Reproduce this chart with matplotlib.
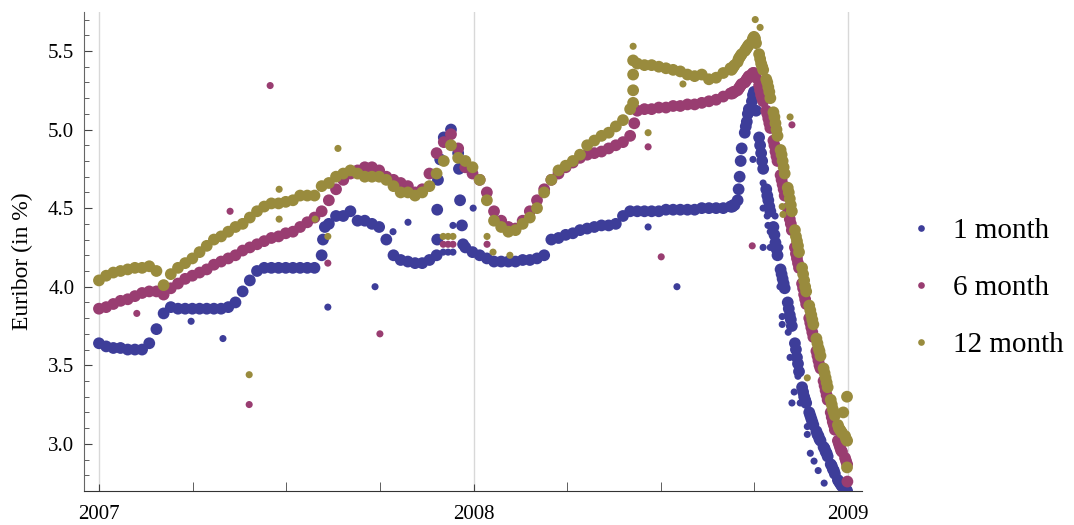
import numpy as np
import pandas as pd
import matplotlib
matplotlib.use("Agg")
import matplotlib.pyplot as plt
from matplotlib.lines import Line2D
from matplotlib.ticker import MultipleLocator, FixedLocator, FormatStrFormatter

plt.rcParams['font.family'] = ['Liberation Serif', 'DejaVu Serif']

# =============================================
# DATOS (en %)
# =============================================
# valores semanales (lunes) hasta el 8 de septiembre de 2008
fechas_sem = pd.date_range("2007-01-01", periods=89, freq="7D")

euribor_1m = [
    3.64, 3.62, 3.61, 3.61, 3.60, 3.60, 3.60, 3.64, 3.73, 3.83,
    3.87, 3.86, 3.86, 3.86, 3.86, 3.86, 3.86, 3.86, 3.87, 3.90,
    3.97, 4.04, 4.10, 4.12, 4.12, 4.12, 4.12, 4.12, 4.12, 4.12,
    4.12, 4.20, 4.40, 4.45, 4.45, 4.48, 4.42, 4.42, 4.40, 4.38,
    4.30, 4.20, 4.17, 4.16, 4.15, 4.15, 4.17, 4.20, 4.95, 5.00,
    4.85, 4.25, 4.22, 4.20, 4.18, 4.16, 4.16, 4.16, 4.16, 4.17,
    4.17, 4.18, 4.20, 4.30, 4.31, 4.33, 4.34, 4.36, 4.37, 4.38,
    4.39, 4.39, 4.40, 4.45, 4.48, 4.48, 4.48, 4.48, 4.48, 4.49,
    4.49, 4.49, 4.49, 4.49, 4.50, 4.50, 4.50, 4.50, 4.51,
]
euribor_6m = [
    3.86, 3.87, 3.89, 3.91, 3.92, 3.94, 3.96, 3.97, 3.97, 3.95,
    3.99, 4.02, 4.05, 4.07, 4.09, 4.11, 4.14, 4.16, 4.18, 4.20,
    4.23, 4.25, 4.27, 4.29, 4.31, 4.32, 4.34, 4.35, 4.38, 4.41,
    4.44, 4.48, 4.55, 4.62, 4.68, 4.72, 4.74, 4.76, 4.76, 4.74,
    4.70, 4.68, 4.66, 4.64, 4.60, 4.62, 4.72, 4.85, 4.92, 4.97,
    4.88, 4.76, 4.72, 4.68, 4.60, 4.48, 4.42, 4.38, 4.37, 4.42,
    4.48, 4.55, 4.62, 4.68, 4.72, 4.76, 4.79, 4.82, 4.84, 4.85,
    4.86, 4.88, 4.90, 4.92, 4.96, 5.12, 5.13, 5.13, 5.14, 5.14,
    5.15, 5.15, 5.16, 5.16, 5.17, 5.18, 5.19, 5.21, 5.23,
]
euribor_12m = [
    4.04, 4.07, 4.09, 4.10, 4.11, 4.12, 4.12, 4.13, 4.10, 4.01,
    4.08, 4.12, 4.15, 4.18, 4.22, 4.26, 4.30, 4.32, 4.35, 4.38,
    4.40, 4.44, 4.48, 4.51, 4.53, 4.53, 4.54, 4.55, 4.58, 4.58,
    4.58, 4.64, 4.66, 4.70, 4.72, 4.74, 4.72, 4.70, 4.70, 4.70,
    4.68, 4.64, 4.60, 4.60, 4.58, 4.60, 4.64, 4.72, 4.80, 4.90,
    4.82, 4.80, 4.76, 4.68, 4.55, 4.42, 4.38, 4.35, 4.36, 4.40,
    4.44, 4.50, 4.60, 4.68, 4.74, 4.77, 4.80, 4.84, 4.90, 4.93,
    4.96, 4.98, 5.02, 5.06, 5.13, 5.42, 5.41, 5.41, 5.40, 5.39,
    5.38, 5.37, 5.35, 5.34, 5.35, 5.32, 5.33, 5.36, 5.39,
]

# valores diarios (días hábiles) durante la caída de otoño 2008
fechas_dia = pd.bdate_range("2008-09-09", "2008-12-31")

euribor_1m_dia = [
    4.51, 4.51, 4.52, 4.52, 4.55, 4.62, 4.70, 4.80, 4.88, 4.98, 5.02, 5.05, 5.10, 5.13, 5.18, 5.22,
    5.24, 5.22, 5.12, 4.95, 4.90, 4.85, 4.80, 4.75, 4.62, 4.58, 4.55, 4.51, 4.48, 4.38, 4.33, 4.28,
    4.24, 4.20, 4.11, 4.08, 4.05, 4.02, 3.99,
    3.90, 3.86, 3.82, 3.79, 3.75, 3.64, 3.60, 3.55, 3.51, 3.46, 3.36, 3.33, 3.30, 3.28, 3.26, 3.20,
    3.18, 3.16, 3.14, 3.12,
    3.08, 3.06, 3.05, 3.03, 3.02, 2.98, 2.97, 2.95, 2.94, 2.92, 2.87, 2.86, 2.84, 2.83, 2.81, 2.77,
    2.76, 2.75, 2.74, 2.73, 2.72, 2.71, 2.70,
]
euribor_6m_dia = [
    5.23, 5.23, 5.24, 5.24, 5.25, 5.26, 5.27, 5.28, 5.29, 5.30, 5.31, 5.32, 5.33, 5.34, 5.35, 5.36,
    5.36, 5.35, 5.33, 5.28, 5.25, 5.22, 5.20, 5.18, 5.12, 5.10, 5.07, 5.04, 5.01, 4.93, 4.90, 4.86,
    4.83, 4.80, 4.71, 4.68, 4.65, 4.62, 4.58,
    4.50, 4.47, 4.43, 4.40, 4.36, 4.25, 4.21, 4.18, 4.15, 4.12, 4.02, 3.99, 3.95, 3.92, 3.89, 3.80,
    3.77, 3.74, 3.71, 3.68,
    3.59, 3.56, 3.53, 3.50, 3.48, 3.40, 3.37, 3.34, 3.31, 3.28, 3.20, 3.17, 3.14, 3.12, 3.09, 3.02,
    3.00, 2.98, 2.96, 2.95, 2.91, 2.89, 2.87,
]
euribor_12m_dia = [
    5.38, 5.39, 5.40, 5.41, 5.43, 5.45, 5.46, 5.47, 5.48, 5.50, 5.51, 5.52, 5.53, 5.54, 5.56, 5.58,
    5.59, 5.58, 5.55, 5.48, 5.45, 5.42, 5.40, 5.38, 5.32, 5.30, 5.27, 5.24, 5.20, 5.11, 5.08, 5.04,
    5.00, 4.96, 4.87, 4.84, 4.80, 4.76, 4.72,
    4.63, 4.60, 4.56, 4.52, 4.48, 4.36, 4.32, 4.29, 4.26, 4.22, 4.12, 4.08, 4.04, 4.00, 3.97, 3.88,
    3.85, 3.82, 3.79, 3.76,
    3.67, 3.64, 3.61, 3.59, 3.56, 3.48, 3.45, 3.42, 3.39, 3.36, 3.28, 3.25, 3.22, 3.20, 3.18, 3.12,
    3.10, 3.09, 3.08, 3.07, 3.05, 3.03, 3.02,
]

# saltos bruscos dentro de la banda (año decimal, valor)
salto_1m_t = [2007.598, 2007.603, 2007.903, 2007.903, 2007.905, 2007.911,
              2007.961, 2007.964, 2007.969, 2007.972]
salto_1m_v = [4.30, 4.38, 4.30, 4.49, 4.68, 4.81, 4.75, 4.55, 4.39, 4.27]
salto_6m_t = [2008.429, 2008.998]
salto_6m_v = [5.04, 2.76]
salto_12m_t = [2008.426, 2008.426, 2008.426, 2008.426, 2008.987, 2008.997, 2008.997]
salto_12m_v = [5.17, 5.25, 5.35, 5.44, 3.20, 3.30, 2.85]

# puntos sueltos fuera de la banda
suelto_1m_t = [
    2007.246, 2007.331, 2007.611, 2007.737, 2007.785, 2007.825,
    2007.919, 2007.932, 2007.945, 2007.945, 2007.999, 2008.466, 2008.543,
    2008.746, 2008.773, 2008.773, 2008.773, 2008.784, 2008.805, 2008.786, 2008.792,
    2008.773, 2008.792, 2008.818, 2008.818, 2008.824, 2008.824, 2008.840, 2008.845,
    2008.866, 2008.856, 2008.850, 2008.872, 2008.891, 2008.891, 2008.899, 2008.909,
    2008.920, 2008.936,
]
suelto_1m_v = [
    3.78, 3.67, 3.87, 4.00, 4.35, 4.41,
    4.22, 4.22, 4.22, 4.39, 4.50, 4.38, 4.00,
    4.81, 4.76, 4.66, 4.50, 4.45, 4.45, 4.39, 4.35,
    4.25, 4.25, 4.25, 4.00, 3.81, 3.76, 3.71, 3.55,
    3.43, 3.33, 3.26, 3.26, 3.11, 3.06, 2.94, 2.89,
    2.83, 2.75,
]
suelto_6m_t = [
    2007.101, 2007.350, 2007.401, 2007.457, 2007.611, 2007.750,
    2007.919, 2007.932, 2007.945, 2008.036, 2008.466, 2008.501,
    2008.744, 2008.850,
]
suelto_6m_v = [
    3.83, 4.48, 3.25, 5.28, 4.15, 3.70,
    4.27, 4.27, 4.27, 4.27, 4.89, 4.19,
    4.26, 5.03,
]
suelto_12m_t = [
    2007.401, 2007.481, 2007.481, 2007.577, 2007.611, 2007.638,
    2007.919, 2007.932, 2007.945, 2008.036, 2008.052, 2008.097,
    2008.426, 2008.466, 2008.559, 2008.752, 2008.765, 2008.845, 2008.891,
    2008.824, 2008.826,
]
suelto_12m_v = [
    3.44, 4.62, 4.43, 4.43, 4.32, 4.88,
    4.32, 4.32, 4.32, 4.32, 4.22, 4.20,
    5.53, 4.98, 5.29, 5.70, 5.65, 5.08, 3.42,
    4.51, 4.46,
]

nombres = ["1 month", "6 month", "12 month"]
colores = ["#3d3d99", "#993d71", "#998b3d"]


def anio_decimal(d):
    dias = np.where(d.is_leap_year, 366.0, 365.0)
    return d.year + (d.dayofyear - 1) / dias


t_sem = anio_decimal(fechas_sem)
t_dia = anio_decimal(fechas_dia)

# =============================================
# GRÁFICO
# =============================================
fig = plt.figure(figsize=(10.74, 5.25), dpi=100)
ax = fig.add_axes([0.0782, 0.0648, 0.7244, 0.9123])

TAM_BANDA = 72
TAM_SUELTO = 26

series = [
    (euribor_1m, euribor_1m_dia, salto_1m_t, salto_1m_v, suelto_1m_t, suelto_1m_v),
    (euribor_6m, euribor_6m_dia, salto_6m_t, salto_6m_v, suelto_6m_t, suelto_6m_v),
    (euribor_12m, euribor_12m_dia, salto_12m_t, salto_12m_v, suelto_12m_t, suelto_12m_v),
]
for (sem, dia, st, sv, ut, uv), col in zip(series, colores):
    ax.scatter(t_sem, sem, s=TAM_BANDA, color=col, edgecolors="none", zorder=3)
    ax.scatter(t_dia, dia, s=TAM_BANDA, color=col, edgecolors="none", zorder=3)
    ax.scatter(st, sv, s=TAM_BANDA, color=col, edgecolors="none", zorder=3)
    ax.scatter(ut, uv, s=TAM_SUELTO, color=col, edgecolors="none", zorder=3)

ax.set_xlim(2006.960, 2009.037)
ax.set_ylim(2.70, 5.748)

ax.xaxis.set_major_locator(FixedLocator([2007, 2008, 2009]))
ax.xaxis.set_minor_locator(FixedLocator([2007.25, 2007.5, 2007.75,
                                         2008.25, 2008.5, 2008.75]))
ax.set_xticklabels(["2007", "2008", "2009"])
ax.yaxis.set_major_locator(MultipleLocator(0.5))
ax.yaxis.set_minor_locator(MultipleLocator(0.1))
ax.yaxis.set_major_formatter(FormatStrFormatter("%.1f"))

for lado in ["top", "right"]:
    ax.spines[lado].set_visible(False)
ax.spines["left"].set_color("#666666")
ax.spines["bottom"].set_color("#333333")

ax.tick_params(axis="both", which="both", direction="in", colors="#444444",
               labelcolor="black", labelsize=15)
ax.tick_params(axis="y", which="major", length=5.5, pad=7)
ax.tick_params(axis="y", which="minor", length=3.5)
ax.tick_params(axis="x", which="major", length=5, pad=10)
ax.tick_params(axis="x", which="minor", length=6.5)

ax.grid(True, axis="x", which="major", color="#d8d8d8", linewidth=1.0)
ax.set_axisbelow(True)

ax.set_ylabel("Euribor (in %)", fontsize=17)
ax.yaxis.set_label_coords(-0.065, 0.48)

manejadores = [Line2D([], [], ls="", marker="o", ms=4.8, color=c,
                      markeredgewidth=0) for c in colores]
ax.legend(manejadores, nombres, loc="center left", bbox_to_anchor=(1.019, 0.424),
          frameon=False, fontsize=21, labelspacing=1.06, handletextpad=0.5,
          handlelength=1.2)

fig.savefig("out.png", dpi=100)
